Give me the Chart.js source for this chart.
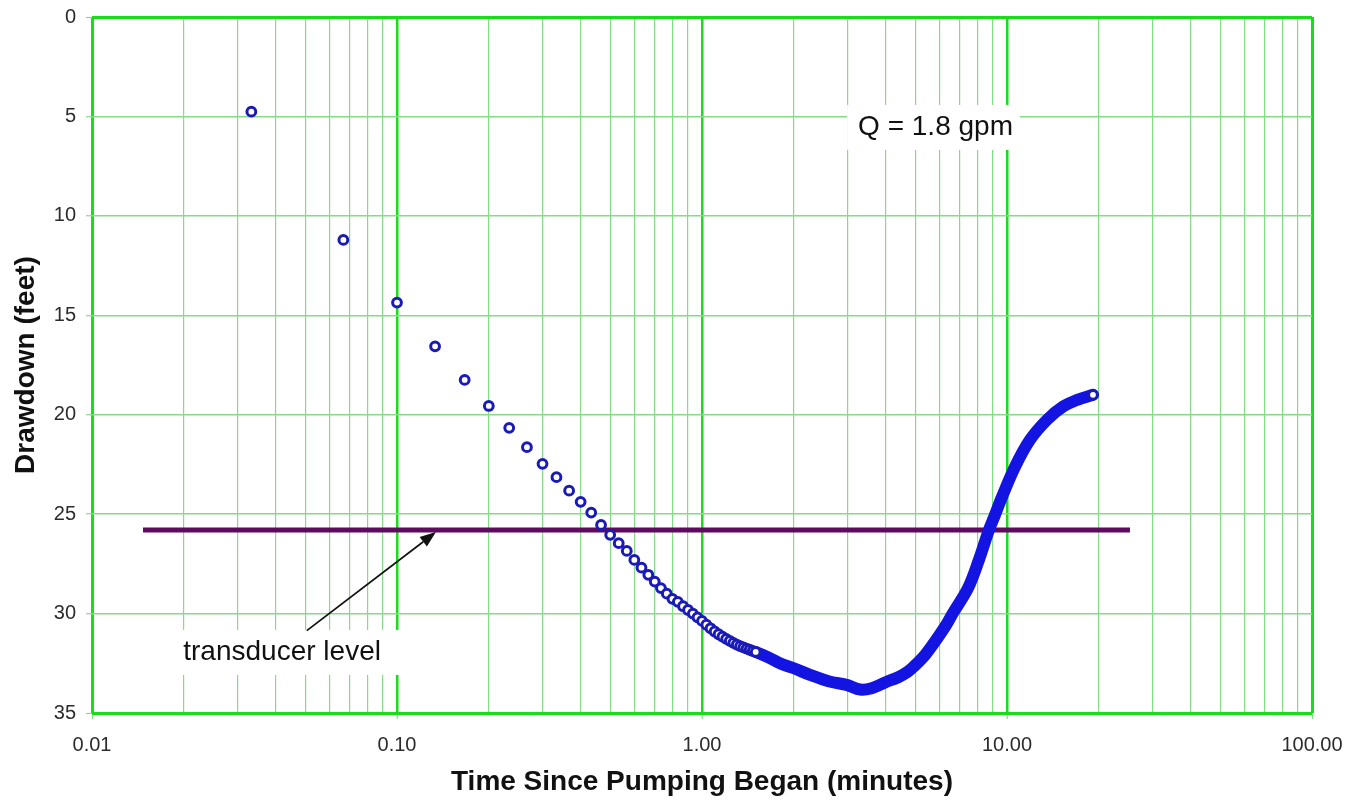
<!DOCTYPE html>
<html>
<head>
<meta charset="utf-8">
<title>Drawdown vs Time Since Pumping Began</title>
<script src="https://cdn.jsdelivr.net/npm/chart.js@4.4.1/dist/chart.umd.min.js"></script>
<style>
  html, body { margin: 0; padding: 0; background: #fff; }
  #wrap { width: 1352px; height: 804px; position: relative; }
</style>
</head>
<body>
<div id="wrap"><canvas id="drawdownChart"></canvas></div>
<script>
// Logger readings, one every 2 seconds while the points are still separate (minutes, feet)
const earlyTimes = [0.0333, 0.0667, 0.1, 0.1333, 0.1667, 0.2, 0.2333, 0.2667, 0.3, 0.3333,
  0.3667, 0.4, 0.4333, 0.4667, 0.5, 0.5333, 0.5667, 0.6, 0.6333, 0.6667,
  0.7, 0.7333, 0.7667, 0.8, 0.8333, 0.8667, 0.9, 0.9333, 0.9667, 1.0,
  1.0333, 1.0667, 1.1, 1.1333, 1.1667, 1.2, 1.2333, 1.2667, 1.3, 1.3333,
  1.3667, 1.4, 1.4333, 1.4667, 1.5];
const earlyDrawdown = [4.76, 11.21, 14.36, 16.56, 18.25, 19.56, 20.66, 21.63, 22.47, 23.14,
  23.82, 24.38, 24.92, 25.54, 26.04, 26.46, 26.85, 27.3, 27.69, 28.05,
  28.39, 28.72, 29.0, 29.26, 29.41, 29.63, 29.82, 30.0, 30.19, 30.37,
  30.56, 30.74, 30.9, 31.04, 31.16, 31.27, 31.37, 31.47, 31.56, 31.64,
  31.7, 31.76, 31.82, 31.88, 31.93];

// Later readings, where the samples run together into a solid band
const lateTimes = [1.5, 1.65, 1.8, 2.0, 2.26, 2.6, 3.0, 3.3, 3.6, 4.0,
  4.4, 4.7, 4.92, 5.42, 6.26, 6.65, 7.45, 8.09, 8.73, 9.13,
  9.63, 10.62, 11.89, 13.52, 15.27, 17.0, 19.14];
const lateDrawdown = [31.93, 32.2, 32.5, 32.75, 33.08, 33.4, 33.6, 33.82, 33.75, 33.45,
  33.2, 32.95, 32.7, 32.03, 30.67, 29.97, 28.72, 27.3, 25.79, 25.04,
  24.13, 22.62, 21.27, 20.26, 19.59, 19.25, 19.0];

const transducerLevel = 25.8;
const transducerSpan = [0.0147, 25.3];

const decades = [0.01, 0.1, 1, 10, 100];
const decadeSteps = [1, 2, 3, 4, 5, 6, 7, 8, 9];
const depthTicks = [0, 5, 10, 15, 20, 25, 30, 35];

const majorGreen = "#19dd19";
const minorGreen = "#86dc86";
const fontFamily = "Arial, 'Liberation Sans', sans-serif";

const isDecade = (v) => Math.abs(Math.log10(v) - Math.round(Math.log10(v))) < 1e-6;

const circlePoints = earlyTimes.map((t, i) => ({ x: t, y: earlyDrawdown[i] }));
circlePoints.push({ x: lateTimes[lateTimes.length - 1], y: lateDrawdown[lateDrawdown.length - 1] });
const bandPoints = lateTimes.map((t, i) => ({ x: t, y: lateDrawdown[i] }));

// Text boxes and the arrow, placed in data units
const notes = [
  { text: "transducer level", t: 0.042, d: 32.33, padL: 11, padR: 20 },
  { text: "Q = 1.8 gpm", t: 5.83, d: 5.93, padL: 11, padR: 7 }
];
const arrow = { from: [0.0506, 30.86], to: [0.1342, 25.9] };

// keep the plot frame exactly where the layout padding puts it
function noScalePadding(scale) {
  scale.paddingTop = 0;
  scale.paddingBottom = 0;
  scale.paddingLeft = 0;
  scale.paddingRight = 0;
}

const notesPlugin = {
  id: "notes",
  beforeDatasetsDraw(chart) {
    const { ctx, scales: { x, y } } = chart;
    ctx.save();
    ctx.font = "28px " + fontFamily;
    ctx.fillStyle = "#fff";
    notes.forEach((n) => {
      const cx = x.getPixelForValue(n.t);
      const base = y.getPixelForValue(n.d);
      const w = ctx.measureText(n.text).width;
      ctx.fillRect(cx - w / 2 - n.padL, base - 30, w + n.padL + n.padR, 45);
    });
    ctx.restore();
  },
  afterDatasetsDraw(chart) {
    const { ctx, scales: { x, y } } = chart;
    ctx.save();
    ctx.font = "28px " + fontFamily;
    ctx.fillStyle = "#111";
    ctx.textAlign = "center";
    ctx.textBaseline = "alphabetic";
    notes.forEach((n) => {
      ctx.fillText(n.text, x.getPixelForValue(n.t), y.getPixelForValue(n.d));
    });

    const x0 = x.getPixelForValue(arrow.from[0]), y0 = y.getPixelForValue(arrow.from[1]);
    const x1 = x.getPixelForValue(arrow.to[0]), y1 = y.getPixelForValue(arrow.to[1]);
    const ang = Math.atan2(y1 - y0, x1 - x0);
    const headLen = 16, headHalf = 6;
    ctx.strokeStyle = "#111";
    ctx.lineWidth = 1.7;
    ctx.beginPath();
    ctx.moveTo(x0, y0);
    ctx.lineTo(x1 - Math.cos(ang) * headLen, y1 - Math.sin(ang) * headLen);
    ctx.stroke();
    ctx.translate(x1, y1);
    ctx.rotate(ang);
    ctx.beginPath();
    ctx.moveTo(0, 0);
    ctx.lineTo(-headLen, -headHalf);
    ctx.lineTo(-headLen, headHalf);
    ctx.closePath();
    ctx.fill();
    ctx.restore();
  }
};

new Chart(document.getElementById("drawdownChart"), {
  type: "scatter",
  data: {
    datasets: [
      {
        label: "Drawdown",
        data: circlePoints,
        showLine: false,
        pointStyle: "circle",
        pointRadius: 4.4,
        pointBorderWidth: 3,
        pointBorderColor: "#1a1ab8",
        pointBackgroundColor: "#ffffff"
      },
      {
        label: "Drawdown (dense)",
        data: bandPoints,
        showLine: true,
        pointRadius: 0,
        borderColor: "#1414e2",
        borderWidth: 12,
        borderCapStyle: "round",
        borderJoinStyle: "round",
        tension: 0.35
      },
      {
        label: "Transducer level",
        data: transducerSpan.map((t) => ({ x: t, y: transducerLevel })),
        showLine: true,
        pointRadius: 0,
        borderColor: "#5e0a5e",
        borderWidth: 5
      }
    ]
  },
  options: {
    responsive: true,
    maintainAspectRatio: false,
    animation: false,
    devicePixelRatio: 1,
    layout: { padding: { top: 17, right: 40, bottom: 0, left: 0 } },
    plugins: { legend: { display: false }, tooltip: { enabled: false } },
    scales: {
      x: {
        type: "logarithmic",
        min: 0.01,
        max: 100,
        afterBuildTicks(scale) {
          const vals = [];
          decades.slice(0, -1).forEach((d) => decadeSteps.forEach((s) => vals.push(+(d * s).toPrecision(6))));
          vals.push(decades[decades.length - 1]);
          scale.ticks = vals.map((v) => ({ value: v }));
        },
        afterFit(scale) { scale.height = 91; noScalePadding(scale); },
        border: { display: false },
        grid: {
          color: (c) => isDecade(c.tick.value) ? majorGreen : minorGreen,
          lineWidth: (c) => {
            const v = c.tick.value;
            if (v === 0.01 || v === 100) return 3;
            return isDecade(v) ? 2.5 : 1.2;
          },
          tickColor: (c) => isDecade(c.tick.value) ? minorGreen : "rgba(0,0,0,0)",
          tickLength: 6,
          tickWidth: 1.2
        },
        ticks: {
          autoSkip: false,
          maxRotation: 0,
          padding: 14,
          color: "#2b2b2b",
          font: { family: fontFamily, size: 20 },
          callback: (v) => isDecade(v) ? Number(v).toFixed(2) : ""
        },
        title: {
          display: true,
          text: "Time Since Pumping Began (minutes)",
          color: "#111",
          font: { family: fontFamily, size: 28, weight: "bold" },
          padding: { top: 0, bottom: 5 }
        }
      },
      y: {
        type: "linear",
        reverse: true,
        min: 0,
        max: 35,
        afterBuildTicks(scale) { scale.ticks = depthTicks.map((v) => ({ value: v })); },
        afterFit(scale) { scale.width = 92; noScalePadding(scale); },
        border: { display: false },
        grid: {
          color: (c) => (c.tick.value === 0 || c.tick.value === 35) ? majorGreen : minorGreen,
          lineWidth: (c) => (c.tick.value === 0 || c.tick.value === 35) ? 3 : 1.5,
          tickColor: minorGreen,
          tickLength: 6,
          tickWidth: 1.2
        },
        ticks: {
          padding: 10,
          color: "#2b2b2b",
          font: { family: fontFamily, size: 20 }
        },
        title: {
          display: true,
          text: "Drawdown (feet)",
          color: "#111",
          font: { family: fontFamily, size: 28, weight: "bold" },
          padding: { top: 9, bottom: 0 }
        }
      }
    }
  },
  plugins: [notesPlugin]
});
</script>
</body>
</html>
